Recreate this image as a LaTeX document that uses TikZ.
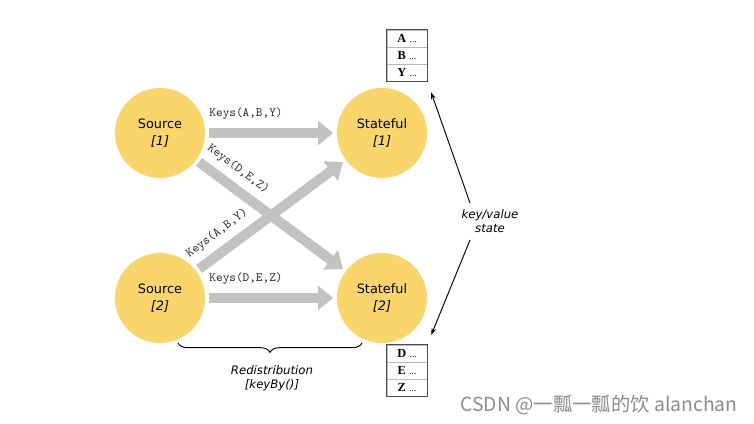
\documentclass[tikz,border=0pt]{standalone}
\usepackage{fontspec}
\setmainfont{DejaVu Sans}
\newfontfamily\cellserif{Liberation Serif}
\newfontfamily\keymono{Latin Modern Mono}
\newfontfamily\cjk{Noto Sans CJK SC}
\usetikzlibrary{arrows.meta,decorations.pathreplacing,calc}
\definecolor{nodeyellow}{RGB}{249,213,106}
\definecolor{flowgray}{RGB}{194,194,194}
\newcommand{\celldots}{\hspace{3pt}{\mdseries\fontsize{8}{8}\selectfont...}}
\begin{document}
\begin{tikzpicture}[x=0.03cm,y=-0.03cm,
  proc/.style={circle,fill=nodeyellow,minimum size=2.7cm,inner sep=0pt,align=center,font=\fontsize{11}{14}\selectfont},
  flow/.style={draw=flowgray,line width=8.5pt,-{Triangle[length=13pt,width=20pt]},shorten <=3pt,shorten >=3pt},
  keylbl/.style={font=\keymono\fontsize{10.8}{11}\selectfont,text=black!85,inner sep=1pt},
  cell/.style={draw=gray!55,minimum width=1.2cm,minimum height=0.51cm,inner sep=0pt,font=\cellserif\bfseries\fontsize{10.5}{10}\selectfont},
  tblframe/.style={draw=black!70,line width=0.6pt},
  thinarr/.style={draw=black,line width=0.8pt,-{Stealth[length=6pt,width=4pt]}},
  note/.style={font=\itshape\fontsize{10}{12}\selectfont,align=center,inner sep=1pt}]
\useasboundingbox (0,0) rectangle (754,424);
\fill[white] (0,0) rectangle (754,424);

% processes
\node[proc] (s1) at (160,133) {Source\\\textit{[1]}};
\node[proc] (s2) at (160,298) {Source\\\textit{[2]}};
\node[proc] (t1) at (382,133) {Stateful\\\textit{[1]}};
\node[proc] (t2) at (382,298) {Stateful\\\textit{[2]}};

% flows
\draw[flow] (s1) -- (t1) node[keylbl,pos=0.31,above=6pt] {Keys(A,B,Y)};
\draw[flow] (s2) -- (t2) node[keylbl,pos=0.31,above=6pt] {Keys(D,E,Z)};
\draw[flow] (s1) -- (t2) node[keylbl,pos=0.21,sloped,above=5pt] {Keys(D,E,Z)};
\draw[flow] (s2) -- (t1) node[keylbl,pos=0.21,sloped,above=5pt] {Keys(A,B,Y)};

% state tables
\node[cell] (a1) at (407,38.5) {A\celldots};
\node[cell] (a2) at (407,55.5) {B\celldots};
\node[cell] (a3) at (407,72.5) {Y\celldots};
\draw[tblframe] (a1.north west) rectangle (a3.south east);
\node[cell] (d1) at (407,353.5) {D\celldots};
\node[cell] (d2) at (407,370.5) {E\celldots};
\node[cell] (d3) at (407,387.5) {Z\celldots};
\draw[tblframe] (d1.north west) rectangle (d3.south east);

% key/value state
\node[note] (kv) at (490,221) {key/value\\state};
\coordinate (kvtop) at (470,203);
\coordinate (kvbot) at (470,240);
\draw[thinarr,shorten >=10pt] (kvtop) -- (a3.south east);
\draw[thinarr,shorten >=9pt] (kvbot) -- (d1.north east);

% redistribution brace
\coordinate (bl) at (178,343);
\coordinate (br) at (362,343);
\draw[decorate,decoration={brace,mirror,amplitude=8pt},line width=0.8pt] (bl) -- (br);
\node[note] (redist) at (272,378) {Redistribution\\{}[keyBy()]};

% watermark
\node[font=\cjk\fontsize{16.5}{17}\selectfont,text=black!45] (wm) at (599,405) {CSDN @一瓢一瓢的饮 alanchan};
\end{tikzpicture}
\end{document}
